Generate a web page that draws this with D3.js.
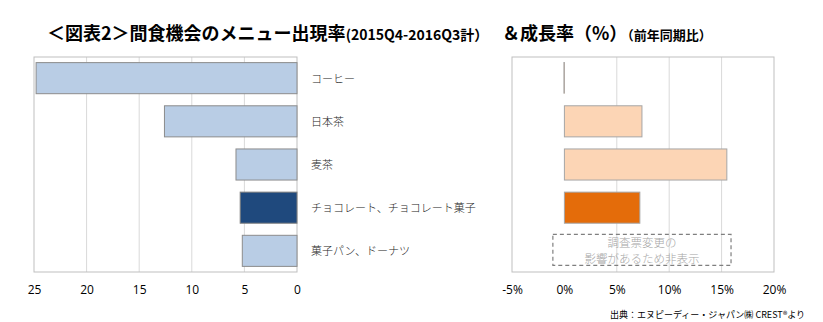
<!DOCTYPE html>
<html><head><meta charset="utf-8">
<script src="https://cdn.jsdelivr.net/npm/d3@7"></script>
<style>body{margin:0;background:#fff}svg{display:block}</style>
</head><body>
<script>
const categories = ["コーヒー","日本茶","麦茶","チョコレート、チョコレート菓子","菓子パン、ドーナツ"];
const shareValues = [24.8, 12.6, 5.8, 5.4, 5.2];
const growthValues = [0, 7.4, 15.5, 7.2, null];
const highlight = [false, false, false, true, false];
const shareTicks = [25, 20, 15, 10, 5, 0];
const growthTicks = [-5, 0, 5, 10, 15, 20];
const noteLines = ["調査票変更の", "影響があるため非表示"];

(function(){
const W = 823, H = 322;
const svg = d3.select("body").append("svg").attr("width", W).attr("height", H);
const jp = "'Noto Sans CJK JP','Noto Sans',sans-serif";
const num = "'Open Sans','Liberation Sans',sans-serif";

// Title
const t = svg.append("text").attr("x", 47).attr("y", 40).attr("font-family", jp).attr("font-weight", "bold").attr("fill", "#000");
t.append("tspan").attr("font-size", 18).text("＜図表2＞間食機会のメニュー出現率");
t.append("tspan").attr("font-size", 14).text("(2015Q4-2016Q3計）");
const t2 = svg.append("text").attr("x", 502).attr("y", 40).attr("font-family", jp).attr("font-weight", "bold").attr("fill", "#000");
t2.append("tspan").attr("font-size", 18).text("＆成長率（%）");
t2.append("tspan").attr("font-size", 13).text("（前年同期比）");

const plotTop = 57, plotBottom = 272;
const y = d3.scaleBand().domain(categories).range([plotTop, plotBottom]).paddingInner(0.28).paddingOuter(0.13);

// Left chart
const xL = d3.scaleLinear().domain([25, 0]).range([34, 297]);
const gL = svg.append("g");
gL.selectAll("line.grid").data(shareTicks.filter(d => d !== 25 && d !== 0)).join("line")
  .attr("x1", d => xL(d)).attr("x2", d => xL(d)).attr("y1", plotTop).attr("y2", plotBottom)
  .attr("stroke", "#d9d9d9").attr("stroke-width", 1);
gL.append("rect").attr("x", xL(25)).attr("y", plotTop).attr("width", xL(0) - xL(25)).attr("height", plotBottom - plotTop)
  .attr("fill", "none").attr("stroke", "#bfbfbf");
gL.selectAll("rect.bar").data(categories).join("rect").attr("class", "bar")
  .attr("x", (d, i) => xL(shareValues[i])).attr("y", d => y(d))
  .attr("width", (d, i) => xL(0) - xL(shareValues[i])).attr("height", y.bandwidth())
  .attr("fill", (d, i) => highlight[i] ? "#1F497D" : "#B9CDE5")
  .attr("stroke", (d, i) => highlight[i] ? "#7f7f7f" : "#8c8c8c").attr("stroke-width", 1);
const axL = d3.axisBottom(xL).tickValues(shareTicks).tickSize(0).tickPadding(0).tickFormat(d3.format("d"));
const axLg = svg.append("g").attr("transform", `translate(0,${plotBottom + 22})`).call(axL);
axLg.select(".domain").remove();
axLg.selectAll("text").attr("font-family", num).attr("font-size", 12).attr("fill", "#000").attr("dy", 0);
// Category labels
svg.selectAll("text.cat").data(categories).join("text").attr("class", "cat")
  .attr("x", 311).attr("y", d => y(d) + y.bandwidth() / 2 + 4.5)
  .attr("font-family", jp).attr("font-weight", 300).attr("font-size", 11).attr("fill", "#262626").text(d => d);

// Right chart
const xR = d3.scaleLinear().domain([-5, 20]).range([512, 774]);
const gR = svg.append("g");
gR.selectAll("line.grid").data(growthTicks.filter(d => d > 0 && d < 20)).join("line")
  .attr("x1", d => xR(d)).attr("x2", d => xR(d)).attr("y1", plotTop).attr("y2", plotBottom)
  .attr("stroke", "#d9d9d9");
gR.append("rect").attr("x", xR(-5)).attr("y", plotTop).attr("width", xR(20) - xR(-5)).attr("height", plotBottom - plotTop)
  .attr("fill", "none").attr("stroke", "#bfbfbf");
const gData = categories.map((c, i) => ({c, v: growthValues[i], h: highlight[i]})).filter(d => d.v !== null);
gR.selectAll("rect.bar").data(gData).join("rect").attr("class", "bar")
  .attr("x", d => xR(Math.min(0, d.v)) - (d.v === 0 ? 0.5 : 0)).attr("y", d => y(d.c))
  .attr("width", d => Math.max(0.5, Math.abs(xR(d.v) - xR(0)))).attr("height", y.bandwidth())
  .attr("fill", d => d.h ? "#E46C0A" : "#FCD5B5")
  .attr("stroke", d => d.v === 0 ? "#7f7f7f" : "#a6a6a6").attr("stroke-width", d => d.v === 0 ? 0.6 : 1);
const axR = d3.axisBottom(xR).tickValues(growthTicks).tickSize(0).tickPadding(0).tickFormat(d => d + "%");
const axRg = svg.append("g").attr("transform", `translate(0,${plotBottom + 22})`).call(axR);
axRg.select(".domain").remove();
axRg.selectAll("text").attr("font-family", num).attr("font-size", 12).attr("fill", "#000").attr("dy", 0);

// Note box for missing category
const missing = categories.find((c, i) => growthValues[i] === null);
const by = y(missing);
gR.append("rect").attr("x", xR(-1.1)).attr("y", by - 1).attr("width", xR(15.9) - xR(-1.1)).attr("height", y.bandwidth())
  .attr("fill", "none").attr("stroke", "#7f7f7f").attr("stroke-width", 1.2).attr("stroke-dasharray", "4,3");
gR.selectAll("text.note").data(noteLines).join("text").attr("class", "note")
  .attr("x", xR(7.4)).attr("y", (d, i) => by + 12 + i * 15.5).attr("text-anchor", "middle")
  .attr("font-family", jp).attr("font-weight", 300).attr("font-size", 11.5).attr("fill", "#a6a6a6").text(d => d);

// Source
svg.append("text").attr("x", 610).attr("y", 318).attr("font-family", jp).attr("font-size", 9).attr("fill", "#000")
  .text("出典：エヌピーディー・ジャパン㈱ CREST®より");
})();
</script>
</body></html>
